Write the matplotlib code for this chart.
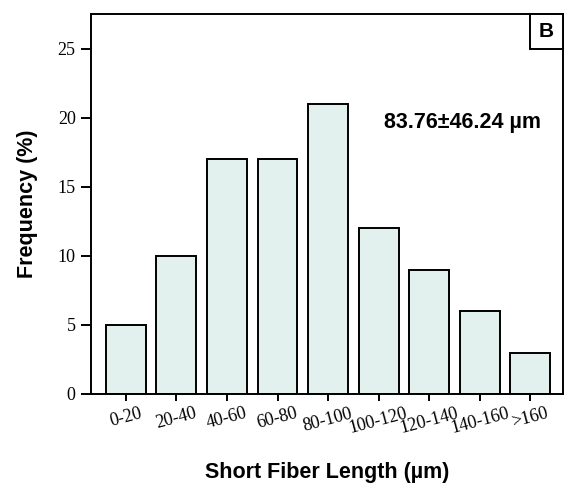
import matplotlib
matplotlib.use('Agg')
import matplotlib.pyplot as plt
from matplotlib.patches import Rectangle

categories = ['0-20', '20-40', '40-60', '60-80', '80-100', '100-120',
              '120-140', '140-160', '>160']
frequency = [5, 10, 17, 17, 21, 12, 9, 6, 3]
mean_label = '83.76\u00b146.24 \u00b5m'

fig = plt.figure(figsize=(5.66, 4.84), dpi=100)
ax = fig.add_axes([0.1608, 0.186, 0.834, 0.785])

x = range(len(categories))
ax.bar(x, frequency, width=0.79, color='#e3f1ee', edgecolor='black',
       linewidth=1.4, zorder=2)

ax.set_xlim(-0.69, 8.65)
ax.set_ylim(0, 27.5)
ax.set_yticks([0, 5, 10, 15, 20, 25])
ax.set_xticks(list(x))
ax.set_xticklabels(categories, rotation=15, ha='center')

for s in ax.spines.values():
    s.set_linewidth(1.4)
ax.tick_params(axis='both', labelsize=13, labelfontfamily='Liberation Serif')
ax.tick_params(axis='y', length=7, width=1.4, pad=4)
ax.tick_params(axis='x', length=5, width=1.4, pad=3)

ax.set_ylabel('Frequency (%)', family='Liberation Sans', fontweight='bold',
              fontsize=15.5, labelpad=14)
ax.set_xlabel('Short Fiber Length (\u00b5m)', family='Liberation Sans',
              fontweight='bold', fontsize=15.5, labelpad=18)

ax.text(6.67, 19.67, mean_label, ha='center', va='center',
        family='Liberation Sans', fontweight='bold', fontsize=15.5)

# panel letter box
ax.add_patch(Rectangle((0.93, 0.908), 0.07, 0.092, transform=ax.transAxes,
                       facecolor='white', edgecolor='black', linewidth=1.4,
                       zorder=3, clip_on=False))
ax.text(0.965, 0.954, 'B', transform=ax.transAxes, ha='center', va='center',
        family='Liberation Sans', fontweight='bold', fontsize=15, zorder=4)

fig.savefig('out.png', dpi=100)
